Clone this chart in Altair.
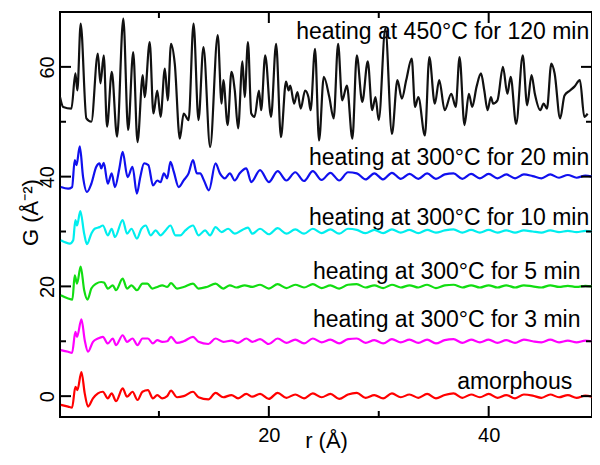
import altair as alt
import pandas as pd

# ---------------- data ----------------
series_names = ["amorphous", "3 min", "5 min", "10 min", "20 min", "450C 120 min"]
series_colors = ["#ff0000", "#ff00ff", "#11dd11", "#00eeee", "#1010ee", "#111111"]

r_red = [1.08, 1.74, 2.1, 2.4, 2.58, 2.95, 3.25, 3.55, 4.0, 4.45, 4.9, 5.35, 5.7, 6.1, 6.7,
         7.1, 7.6, 8.05, 8.5, 9.0, 9.45, 9.85, 10.3, 10.75, 11.1, 11.65, 12.25, 13.1, 13.6,
         14.5, 15.15, 15.85, 16.6, 17.2, 17.95, 18.5]
g_red = [-1.6, -1.9, -2.1, 1.7, 1.1, 4.4, 0.5, -1.9, -0.4, 0.5, 0.8, -0.4, 0.5, -0.9, 1.4,
         -0.1, 0.8, -0.7, 0.8, 1.1, -0.4, 0.2, -0.4, 0.0, 1.0, -0.2, 0.0, 0.8, -0.2,
         -0.6, 0.6, -0.2, 0.2, -0.4, 0.4, -0.1]

r_mag = [1.08, 1.74, 2.1, 2.4, 2.55, 2.95, 3.25, 3.55, 4.0, 4.45, 4.9, 5.35, 5.8, 6.1, 6.7,
         7.1, 7.6, 8.05, 8.5, 9.0, 9.45, 9.85, 10.3, 10.75, 11.1, 11.65, 12.25, 13.1, 13.6,
         14.5, 15.15, 15.85, 16.6, 17.2, 17.95, 18.5]
g_mag = [8.4, 8.1, 7.9, 11.7, 10.8, 14.0, 10.2, 8.1, 9.9, 10.5, 10.8, 9.6, 10.5, 9.3, 11.1,
         9.9, 10.5, 9.3, 10.5, 10.5, 9.6, 10.2, 9.9, 10.0, 10.8, 9.7, 10.0, 10.8, 9.9,
         9.5, 10.5, 9.9, 10.1, 9.7, 10.5, 9.9]

r_green = [1.08, 1.74, 2.13, 2.34, 2.55, 2.88, 3.2, 3.5, 3.85, 4.3, 4.75, 5.0, 5.35, 5.8, 6.1,
           6.7, 7.1, 7.5, 8.0, 8.5, 8.95, 9.4, 9.85, 10.3, 10.75, 11.1, 11.65, 12.25, 13.1,
           13.6, 14.35, 15.15, 15.85, 16.45, 17.05, 17.8, 18.5]
g_green = [18.4, 17.8, 17.6, 22.0, 20.5, 23.6, 19.3, 17.6, 19.6, 20.5, 20.8, 20.7, 19.6, 20.2, 19.3,
           21.4, 19.6, 20.2, 19.3, 20.5, 20.5, 19.6, 19.9, 20.2, 19.9, 20.6, 19.6, 19.9, 20.5,
           19.6, 19.9, 20.5, 19.6, 20.2, 19.8, 20.2, 19.9]

r_cyan = [1.08, 1.9, 2.2, 2.4, 2.55, 2.85, 3.2, 3.45, 3.85, 4.15, 4.6, 4.9, 5.35, 5.7, 6.0,
          6.7, 7.1, 7.5, 8.0, 8.4, 8.8, 9.25, 9.7, 10.15, 10.6, 11.05, 11.5, 11.95, 12.4,
          13.1, 13.6, 14.2, 14.65, 15.15, 15.7, 16.3, 16.9, 17.5, 18.1, 18.5]
g_cyan = [28.4, 27.8, 28.4, 32.1, 31.1, 33.7, 29.6, 27.7, 29.6, 30.5, 30.8, 31.1, 29.3, 30.5, 29.0,
          32.1, 29.6, 30.5, 28.7, 30.5, 31.1, 29.3, 30.2, 29.3, 30.2, 31.1, 29.3, 29.3, 30.2,
          31.1, 29.3, 30.2, 29.3, 30.8, 29.9, 30.5, 29.6, 30.2, 30.7, 29.6]

r_blue = [1.08, 1.74, 2.1, 2.34, 2.5, 2.8, 3.1, 3.45, 3.85, 4.3, 4.6, 4.75, 4.98, 5.35, 5.7,
          6.0, 6.4, 6.7, 7.15, 7.6, 7.99, 8.3, 8.65, 9.04, 9.46, 9.85, 10.15, 10.45, 10.75,
          11.05, 11.35, 11.8, 12.25, 12.7, 13.1, 13.45, 13.75, 14.1, 14.55, 15.15, 15.55,
          16.0, 16.45, 16.9, 17.35, 17.95, 18.4]
g_blue = [38.1, 37.8, 38.1, 43.0, 42.1, 45.5, 39.9, 37.2, 38.7, 41.8, 42.4, 41.5, 42.5, 38.7, 40.6,
          38.1, 41.5, 44.5, 39.9, 41.8, 36.9, 39.9, 42.4, 42.1, 38.4, 39.3, 39.0, 40.6, 39.7,
          42.7, 40.9, 38.1, 39.3, 40.6, 43.0, 40.6, 40.6, 39.3, 37.5, 42.4, 40.6,
          39.7, 40.6, 39.3, 40.6, 41.5, 39.0]

# common r grid for the long-range tails of the five lower curves
r_tail = [19.2, 20.0, 20.8, 21.6, 22.4, 23.2, 24.0, 24.8, 25.6, 26.4, 27.2, 28.0, 28.8,
          29.6, 30.4, 31.2, 32.0, 32.8, 33.6, 34.4, 35.2, 36.0, 36.8, 37.6, 38.4, 39.2,
          40.0, 40.8, 41.6, 42.4, 43.2, 44.0, 44.8, 45.6, 46.4, 47.2, 48.0, 48.8, 49.4]
g_red_tail = [0.4, -0.5, 0.6, -0.3, 0.3, -0.4, 0.5, -0.2, 0.4, -0.5, 0.3, 0.6, -0.3,
              0.2, -0.4, 0.5, -0.2, 0.3, -0.3, 0.4, -0.4, 0.2, 0.5, -0.3, 0.3, -0.2,
              0.4, -0.3, 0.2, -0.4, 0.3, 0.1, -0.3, 0.3, -0.2, 0.2, -0.3, 0.1, -0.1]
g_mag_tail = [10.4, 9.5, 10.5, 9.7, 10.3, 9.6, 10.5, 9.8, 10.3, 9.6, 10.4, 10.5, 9.7,
              10.2, 9.6, 10.4, 9.8, 10.3, 9.7, 10.3, 9.6, 10.2, 10.4, 9.7, 10.3, 9.8,
              10.3, 9.7, 10.2, 9.7, 10.3, 10.0, 9.8, 10.3, 9.8, 10.1, 9.8, 10.1, 10.0]
g_green_tail = [20.3, 19.6, 20.4, 19.7, 20.3, 19.8, 20.4, 19.7, 20.2, 19.6, 20.3, 20.4, 19.8,
                20.2, 19.7, 20.3, 19.8, 20.2, 19.8, 20.3, 19.7, 20.2, 20.3, 19.8, 20.2, 19.8,
                20.2, 19.8, 20.2, 19.8, 20.2, 20.0, 19.8, 20.2, 19.9, 20.1, 19.9, 20.1, 20.0]
g_cyan_tail = [30.5, 29.5, 30.6, 29.6, 30.4, 29.6, 30.5, 29.7, 30.4, 29.6, 30.5, 30.3, 29.7,
               30.3, 29.7, 30.4, 29.8, 30.3, 29.7, 30.3, 29.8, 30.2, 30.4, 29.8, 30.3, 29.8,
               30.3, 29.8, 30.2, 29.8, 30.2, 30.0, 29.8, 30.2, 29.9, 30.1, 29.9, 30.1, 30.0]
g_blue_tail = [41.2, 39.0, 41.0, 39.3, 40.8, 39.2, 41.0, 39.4, 40.7, 39.3, 40.8, 40.6, 39.5,
               40.6, 39.5, 40.7, 39.6, 40.5, 39.6, 40.6, 39.6, 40.4, 40.6, 39.6, 40.5, 39.7,
               40.5, 39.7, 40.4, 39.7, 40.4, 40.1, 39.7, 40.4, 39.8, 40.3, 39.8, 40.2, 40.0]

r_black = [1.0, 1.29, 2.04, 2.4, 2.58, 2.88, 3.4, 3.85, 4.44, 4.68, 4.98, 5.28, 5.71, 6.19, 6.76,
           7.2, 7.66, 8.05, 8.53, 8.7, 9.16, 9.5, 9.85, 10.15, 10.54, 10.8, 11.1, 11.44, 11.9,
           12.25, 12.7, 13.15, 13.6, 14.05, 14.66, 15.35, 15.7, 15.86, 16.25, 16.6, 16.9, 17.2,
           17.6, 17.8, 18.1, 18.4, 18.7, 19.1, 19.3, 19.67, 20.2, 20.66, 21.1, 21.56, 21.8,
           21.95, 22.3, 22.6, 22.9, 23.3, 23.6, 23.8, 24.2, 24.57, 25.0, 25.5, 25.9, 26.3,
           26.67, 27.1, 27.6, 28.0, 28.5, 29.0, 29.4, 29.7, 30.0, 30.6, 31.2, 31.7, 32.1, 32.5,
           33.0, 33.3, 33.6, 34.2, 34.6, 35.1, 35.5, 36.0, 36.6, 37.0, 37.35, 37.8, 38.2, 38.5,
           38.9, 39.3, 39.6, 39.9, 40.2, 40.4, 40.8, 41.3, 41.7, 42.0, 42.5, 43.1, 43.5, 43.9,
           44.2, 44.7, 45.0, 45.3, 45.7, 46.0, 46.5, 46.9, 47.4, 47.8, 48.3, 48.7, 49.0]
g_black = [54.5, 52.7, 52.4, 58.8, 55.7, 67.9, 50.6, 50.0, 62.4, 57.0, 62.1, 49.1, 59.1, 47.3, 68.8,
           48.5, 62.7, 46.3, 58.5, 54.5, 64.5, 51.5, 55.7, 50.9, 59.7, 53.9, 64.2, 60.6, 46.9,
           51.5, 50.3, 67.9, 50.3, 63.6, 45.4, 65.8, 53.3, 57.6, 49.4, 59.1, 55.7, 48.8,
           61.0, 54.5, 64.5, 51.5, 50.9, 55.7, 52.1, 62.1, 50.9, 64.2, 47.2, 57.3, 55.7,
           56.6, 53.3, 55.4, 52.4, 55.7, 54.5, 52.1, 63.3, 46.6, 58.2, 54.5, 50.6, 64.2,
           53.9, 56.6, 46.9, 62.1, 53.6, 61.0, 52.1, 54.5, 50.3, 67.0, 47.8, 57.6, 54.2, 57.6,
           61.5, 52.7, 54.5, 47.5, 61.8, 53.3, 57.6, 52.1, 55.1, 52.7, 61.8, 49.4, 55.1, 52.7,
           56.4, 58.8, 55.7, 52.1, 54.5, 53.3, 53.9, 60.0, 55.1, 58.2, 49.6, 62.1, 53.0, 58.5,
           55.1, 52.1, 53.3, 52.4, 60.6, 58.8, 50.6, 54.8, 55.7, 56.4, 57.6, 50.9, 51.5]

label_text = ["heating at 450°C for 120 min", "heating at 300°C for 20 min",
              "heating at 300°C for 10 min", "heating at 300°C for 5 min",
              "heating at 300°C for 3 min", "amorphous"]
label_r = [49.15, 49.15, 49.15, 48.35, 48.35, 47.6]
label_g = [66.3, 43.4, 32.4, 22.6, 13.8, 2.6]

x_major = [20, 40]
x_minor = [10, 30]
y_major = [0, 20, 40, 60]
y_minor = [10, 30, 50]

# ---------------- build tables ----------------
curves = [
    (series_names[0], r_red + r_tail, g_red + g_red_tail),
    (series_names[1], r_mag + r_tail, g_mag + g_mag_tail),
    (series_names[2], r_green + r_tail, g_green + g_green_tail),
    (series_names[3], r_cyan + r_tail, g_cyan + g_cyan_tail),
    (series_names[4], r_blue + r_tail, g_blue + g_blue_tail),
    (series_names[5], r_black, g_black),
]
rows = []
for name, rs, gs in curves:
    for r, g in zip(rs, gs):
        rows.append({"series": name, "r": r, "G": g})
df = pd.DataFrame(rows)
df_lab = pd.DataFrame({"label": label_text, "r": label_r, "G": label_g})

W, H = 532, 405
FONT = "Liberation Sans"

xscale = alt.Scale(domain=[1, 49.4], nice=False, zero=False)
yscale = alt.Scale(domain=[-3.8, 70], nice=False, zero=False)
xaxis = alt.Axis(values=x_major, title="r  (Å)", ticks=False, domain=False, grid=False,
                 labelFontSize=20, labelPadding=8, labelColor="black", labelFont=FONT,
                 titleFontSize=22, titleFontWeight="normal", titleColor="black",
                 titleFont=FONT, titleBaseline="bottom", titleY=35)
yaxis = alt.Axis(values=y_major, title="G  (Å⁻²)", ticks=False, domain=False, grid=False,
                 labelFontSize=20, labelPadding=7, labelAngle=270, labelAlign="center",
                 labelBaseline="alphabetic", labelColor="black", labelFont=FONT,
                 titleFontSize=22, titleFontWeight="normal", titleColor="black",
                 titleFont=FONT, titleAngle=270, titleAlign="center",
                 titleBaseline="alphabetic", titleX=-23, titleY=200)

X = alt.X("r:Q", scale=xscale, axis=xaxis)
Y = alt.Y("G:Q", scale=yscale, axis=yaxis)

lines = alt.Chart(df).mark_line(strokeWidth=2.2, interpolate="monotone", clip=True).encode(
    x=X, y=Y,
    color=alt.Color("series:N", scale=alt.Scale(domain=series_names, range=series_colors),
                    legend=None),
    order=alt.Order("r:Q"),
)

texts = alt.Chart(df_lab).mark_text(align="right", baseline="middle", fontSize=23,
                                    font=FONT, color="black").encode(
    x=X, y=Y, text="label:N")

def yticks(vals, length):
    d = pd.DataFrame({"G": vals})
    left = alt.Chart(d).mark_rule(color="black", strokeWidth=2).encode(
        y=Y, x=alt.value(0), x2=alt.value(length))
    right = alt.Chart(d).mark_rule(color="black", strokeWidth=2).encode(
        y=Y, x=alt.value(W), x2=alt.value(W - length))
    return [left, right]

def xticks(vals, length):
    d = pd.DataFrame({"r": vals})
    bottom = alt.Chart(d).mark_rule(color="black", strokeWidth=2).encode(
        x=X, y=alt.value(H), y2=alt.value(H - length))
    top = alt.Chart(d).mark_rule(color="black", strokeWidth=2).encode(
        x=X, y=alt.value(0), y2=alt.value(length))
    return [bottom, top]

layers = [texts, lines] + yticks(y_major, 11) + yticks(y_minor, 6) + xticks(x_major, 11) + xticks(x_minor, 6)

chart = alt.layer(*layers).properties(
    width=W, height=H,
    padding={"left": 52, "top": 4, "right": 0, "bottom": 36},
    autosize=alt.AutoSizeParams(type="none"),
    background="white",
).configure_view(stroke="black", strokeWidth=2)

chart.save("out.html", embed_options={"renderer": "svg", "actions": False})
